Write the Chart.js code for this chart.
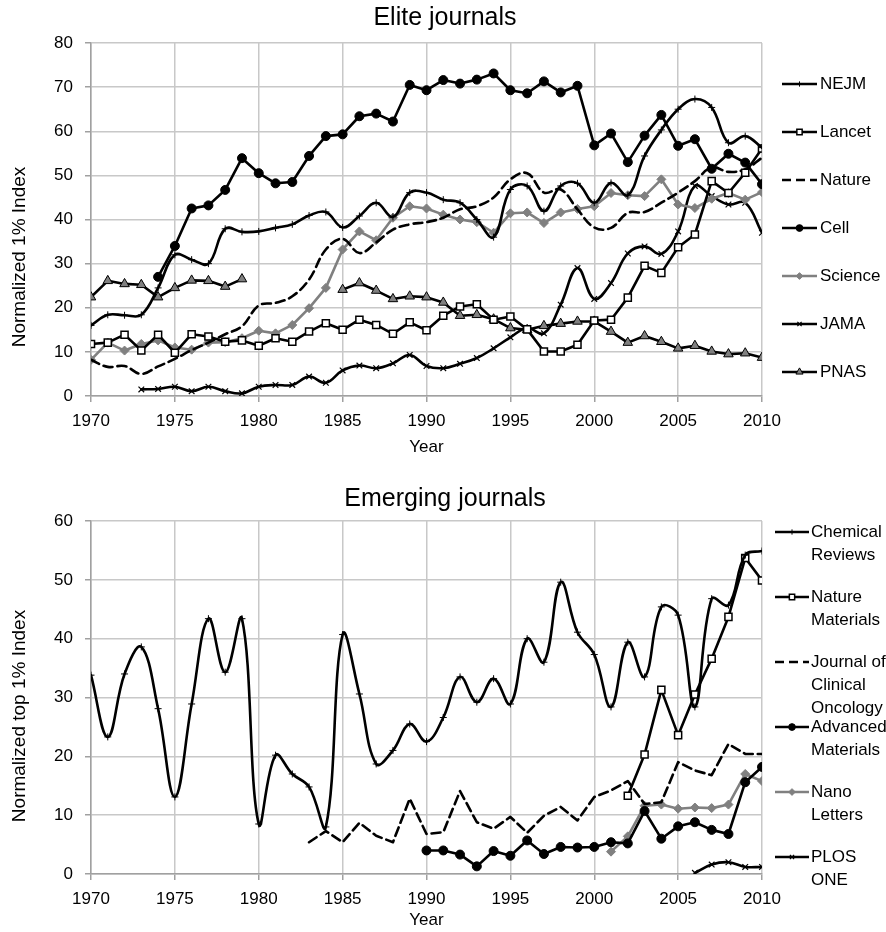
<!DOCTYPE html>
<html>
<head>
<meta charset="utf-8">
<title>Elite and emerging journals</title>
<script src="https://cdn.jsdelivr.net/npm/chart.js@4.4.1/dist/chart.umd.min.js"></script>
<style>
  body { margin: 0; background: #fff; }
  #wrap { width: 886px; height: 932px; }
  canvas { display: block; }
</style>
</head>
<body>
<div id="wrap">
  <canvas id="elite" width="886" height="466"></canvas>
  <canvas id="emerging" width="886" height="466"></canvas>
</div>
<script>
// years on the x axis (both panels)
const years = [1970, 1971, 1972, 1973, 1974, 1975, 1976, 1977, 1978, 1979,
               1980, 1981, 1982, 1983, 1984, 1985, 1986, 1987, 1988, 1989,
               1990, 1991, 1992, 1993, 1994, 1995, 1996, 1997, 1998, 1999,
               2000, 2001, 2002, 2003, 2004, 2005, 2006, 2007, 2008, 2009, 2010];
const xTicks = [1970, 1975, 1980, 1985, 1990, 1995, 2000, 2005, 2010];

// --- Elite journals (normalized 1% index) ---
const eliteNames = [['NEJM'], ['Lancet'], ['Nature'], ['Cell'], ['Science'], ['JAMA'], ['PNAS']];
const nejm = [16, 18.4, 18.3, 18.4, 24.5, 32, 30.9, 30, 37.9, 37.2,
              37.3, 38.1, 38.9, 40.9, 41.7, 38.2, 40.8, 43.8, 40.6, 46.1,
              46.1, 44.5, 43.8, 40, 36, 46.8, 47.6, 41.9, 47.6, 48.2,
              43.8, 48.3, 45.5, 54.4, 60.3, 65, 67.3, 65.4, 57.4, 58.9, 56.3];
const lancet = [11.8, 12.1, 13.9, 10.3, 13.9, 9.8, 14, 13.5, 12.3, 12.6,
                11.4, 13.1, 12.3, 14.6, 16.5, 15, 17.3, 16.1, 14.1, 16.7,
                14.9, 18.2, 20.3, 20.8, 17.3, 18, 15.1, 10.1, 10.1, 11.6,
                17.1, 17.3, 22.3, 29.5, 27.9, 33.7, 36.6, 48.7, 46, 50.6, 56.1];
const nature = [8.2, 6.6, 6.8, 5, 6.7, 8.4, 10.4, 12.1, 14, 15.8,
                20.5, 21.1, 22.6, 26.4, 33.2, 35.6, 32.4, 34.8, 37.7, 38.9,
                39.4, 40.4, 42.3, 43, 45, 49.1, 50.5, 46.1, 46.8, 42.3,
                38.2, 38.1, 41.5, 41.7, 43.8, 46.1, 48.7, 51.8, 50.8, 51.4, 54];
const cell = [null, null, null, null, 27, 34, 42.5, 43.2, 46.7, 53.9,
              50.5, 48.2, 48.5, 54.4, 58.9, 59.3, 63.4, 64, 62.2, 70.5,
              69.3, 71.6, 70.8, 71.7, 73.1, 69.3, 68.6, 71.3, 68.8, 70.3,
              56.8, 59.5, 53, 59, 63.7, 56.7, 58.2, 51.5, 54.9, 52.9, 48];
const science = [8.2, 12.1, 10.3, 11.8, 12.6, 11, 10.5, 12.1, 12.2, 13.1,
                 14.8, 14.2, 16.1, 19.9, 24.5, 33.2, 37.3, 35.3, 40.4, 43,
                 42.5, 41.1, 40, 39.4, 37, 41.4, 41.6, 39.2, 41.6, 42.4,
                 43, 46, 45.5, 45.3, 49.1, 43.4, 42.6, 44.7, 46, 44.5, 46.2];
const jama = [null, null, null, 1.5, 1.6, 2.1, 1.1, 2.1, 1.1, 0.6,
              2.1, 2.5, 2.5, 4.4, 3, 5.8, 6.9, 6.3, 7.4, 9.3,
              6.8, 6.3, 7.3, 8.6, 10.8, 13.3, 15.4, 14.2, 20.7, 29,
              22, 25.6, 32.3, 33.9, 32.2, 37.3, 47.6, 45.3, 43.4, 43.8, 37];
const pnas = [22.4, 26.1, 25.4, 25.2, 22.4, 24.5, 26.2, 26.1, 24.8, 26.5,
              null, null, null, null, null, 24.1, 25.6, 23.9, 22, 22.6,
              22.4, 21.2, 18.2, 18.4, 17.4, 15.4, 15, 15.9, 16.4, 16.9,
              16.9, 14.6, 12.1, 13.6, 12.3, 10.8, 11.4, 10.1, 9.5, 9.7, 8.7];

// --- Emerging journals (normalized top 1% index) ---
const emergingNames = [['Chemical', 'Reviews'], ['Nature', 'Materials'],
                       ['Journal of', 'Clinical', 'Oncology'], ['Advanced', 'Materials'],
                       ['Nano', 'Letters'], ['PLOS', 'ONE']];
const chemRev = [33.8, 23.3, 34, 38.6, 28.1, 13.1, 28.9, 43.4, 34.3, 43.4,
                 8.5, 20.2, 17, 14.8, 8, 40.7, 30.6, 18.7, 21, 25.5,
                 22.5, 26.6, 33.5, 29.2, 33.2, 28.9, 40, 36, 49.6, 41.1,
                 37.3, 28.4, 39.4, 33.5, 45.4, 44, 28.4, 46.8, 45.7, 54.2, 54.9];
const natMater = [null, null, null, null, null, null, null, null, null, null,
                  null, null, null, null, null, null, null, null, null, null,
                  null, null, null, null, null, null, null, null, null, null,
                  null, null, 13.3, 20.3, 31.3, 23.6, 30.5, 36.6, 43.7, 53.7, 49.9];
const jco = [null, null, null, null, null, null, null, null, null, null,
             null, null, null, 5.4, 7.3, 5.4, 8.7, 6.5, 5.4, 12.8,
             6.8, 7.1, 14.1, 8.8, 7.7, 9.7, 7, 9.9, 11.4, 9.1,
             13.1, 14.2, 15.8, 11.9, 12.2, 19, 17.6, 16.8, 22.1, 20.4, 20.4];
const advMater = [null, null, null, null, null, null, null, null, null, null,
                  null, null, null, null, null, null, null, null, null, null,
                  4, 4, 3.3, 1.3, 3.9, 3.1, 5.7, 3.4, 4.6, 4.5,
                  4.6, 5.4, 5.2, 10.7, 6, 8.1, 8.8, 7.5, 6.8, 15.6, 18.2];
const nanoLett = [null, null, null, null, null, null, null, null, null, null,
                  null, null, null, null, null, null, null, null, null, null,
                  null, null, null, null, null, null, null, null, null, null,
                  null, 3.8, 6.4, 11.6, 11.8, 11.1, 11.3, 11.2, 11.8, 17, 15.8];
const plosOne = [null, null, null, null, null, null, null, null, null, null,
                 null, null, null, null, null, null, null, null, null, null,
                 null, null, null, null, null, null, null, null, null, null,
                 null, null, null, null, null, null, 0.2, 1.6, 2, 1.2, 1.2];

const FONT = '"Liberation Sans", Arial, Helvetica, sans-serif';
const BLACK = '#000000';
const GRAY = '#808080';
const GRID = '#c8c8c8';
const AXIS = '#a0a0a0';

Chart.defaults.font.family = FONT;
Chart.defaults.color = BLACK;

// marker/line looks, one per series
const st = {
  plus:    { pointStyle: 'cross', pointRadius: 3.5, pointBorderWidth: 1, pointBackgroundColor: BLACK, pointBorderColor: BLACK },
  square:  { pointStyle: 'rect', pointRadius: 5, pointBorderWidth: 1.5, pointBackgroundColor: '#ffffff', pointBorderColor: BLACK },
  dash:    { pointRadius: 0, borderDash: [9, 5] },
  dot:     { pointStyle: 'circle', pointRadius: 4.5, pointBorderWidth: 1, pointBackgroundColor: BLACK, pointBorderColor: BLACK },
  diamond: { pointStyle: 'rectRot', pointRadius: 4.5, pointBorderWidth: 1, pointBackgroundColor: GRAY, pointBorderColor: GRAY },
  xmark:   { pointStyle: 'crossRot', pointRadius: 4, pointBorderWidth: 1.2, pointBackgroundColor: BLACK, pointBorderColor: BLACK },
  tri:     { pointStyle: 'triangle', pointRadius: 5.5, pointBorderWidth: 1, pointBackgroundColor: GRAY, pointBorderColor: BLACK }
};

function series(names, idx, values, look, color, tension) {
  return Object.assign({
    label: names[idx].join(' '),
    lines: names[idx],
    data: years.map((yr, i) => ({ x: yr, y: values[i] })),
    borderColor: color,
    borderWidth: 2.6,
    tension: tension,
    fill: false,
    spanGaps: false,
    borderJoinStyle: 'round',
    borderCapStyle: 'round'
  }, look);
}

// titles, rotated y title and the side legend
const decor = {
  id: 'decor',
  afterDraw(chart, args, o) {
    const ctx = chart.ctx;
    ctx.save();
    ctx.fillStyle = BLACK;
    ctx.textAlign = 'center';
    ctx.textBaseline = 'middle';
    ctx.font = '25px ' + FONT;
    ctx.fillText(o.title, 445, o.titleY);

    ctx.save();
    ctx.translate(20, o.yTitleY);
    ctx.rotate(-Math.PI / 2);
    ctx.font = '19px ' + FONT;
    ctx.fillText(o.yTitle, 0, 0);
    ctx.restore();

    ctx.textAlign = 'left';
    ctx.font = '17px ' + FONT;
    chart.data.datasets.forEach((ds, i) => {
      const y = o.legendTop + i * o.legendStep;
      ctx.strokeStyle = ds.borderColor;
      ctx.lineWidth = ds.borderWidth;
      ctx.setLineDash(ds.borderDash || []);
      ctx.beginPath();
      ctx.moveTo(o.x0, y);
      ctx.lineTo(o.x1, y);
      ctx.stroke();
      ctx.setLineDash([]);
      if (ds.pointRadius > 0) {
        ctx.fillStyle = ds.pointBackgroundColor;
        ctx.strokeStyle = ds.pointBorderColor;
        ctx.lineWidth = ds.pointBorderWidth;
        Chart.helpers.drawPoint(ctx, {
          pointStyle: ds.pointStyle, rotation: 0,
          radius: ds.pointRadius * 0.75, borderWidth: ds.pointBorderWidth
        }, (o.x0 + o.x1) / 2, y);
      }
      ctx.fillStyle = BLACK;
      ds.lines.forEach((t, k) => ctx.fillText(t, o.textX, y + k * o.lineHeight));
    });
    ctx.restore();
  }
};

function makeChart(id, datasets, yMax, padTop, xHeight, titlePad, decorOpts) {
  const gridOpts = { color: GRID, lineWidth: 1.5, tickLength: 6, tickColor: AXIS };
  const borderOpts = { color: AXIS, width: 1.5 };
  return new Chart(document.getElementById(id), {
    type: 'line',
    data: { datasets: datasets },
    options: {
      responsive: false,
      animation: false,
      layout: { padding: { top: padTop, right: 124, left: 0, bottom: 0 } },
      plugins: {
        legend: { display: false },
        tooltip: { enabled: false },
        decor: decorOpts
      },
      scales: {
        x: {
          type: 'linear',
          min: xTicks[0],
          max: xTicks[xTicks.length - 1],
          afterBuildTicks: s => { s.ticks = xTicks.map(v => ({ value: v })); },
          ticks: { callback: v => String(v), font: { size: 17 }, color: BLACK, padding: 9, maxRotation: 0 },
          grid: gridOpts,
          border: borderOpts,
          title: { display: true, text: 'Year', font: { size: 17 }, color: BLACK, padding: { top: 0, bottom: titlePad } },
          afterFit: s => { s.height = xHeight; }
        },
        y: {
          min: 0,
          max: yMax,
          ticks: { stepSize: 10, font: { size: 17 }, color: BLACK, padding: 12 },
          grid: gridOpts,
          border: borderOpts,
          afterFit: s => { s.width = 91; }
        }
      }
    },
    plugins: [decor]
  });
}

makeChart('elite', [
  series(eliteNames, 0, nejm, st.plus, BLACK, 0.4),
  series(eliteNames, 1, lancet, st.square, BLACK, 0),
  series(eliteNames, 2, nature, st.dash, BLACK, 0.4),
  series(eliteNames, 3, cell, st.dot, BLACK, 0),
  series(eliteNames, 4, science, st.diamond, GRAY, 0),
  series(eliteNames, 5, jama, st.xmark, BLACK, 0.4),
  series(eliteNames, 6, pnas, st.tri, BLACK, 0)
], 80, 43, 70, 8, {
  title: 'Elite journals', titleY: 18,
  yTitle: 'Normalized 1% Index', yTitleY: 257,
  legendTop: 84, legendStep: 48, lineHeight: 23,
  x0: 782, x1: 817, textX: 820
});

makeChart('emerging', [
  series(emergingNames, 0, chemRev, st.plus, BLACK, 0.4),
  series(emergingNames, 1, natMater, st.square, BLACK, 0),
  series(emergingNames, 2, jco, st.dash, BLACK, 0),
  series(emergingNames, 3, advMater, st.dot, BLACK, 0),
  series(emergingNames, 4, nanoLett, st.diamond, GRAY, 0),
  series(emergingNames, 5, plosOne, st.xmark, BLACK, 0.4)
], 60, 55, 58, 1, {
  title: 'Emerging journals', titleY: 33,
  yTitle: 'Normalized top 1% Index', yTitleY: 250,
  legendTop: 66, legendStep: 65, lineHeight: 23,
  x0: 775, x1: 809, textX: 811
});
</script>
</body>
</html>
